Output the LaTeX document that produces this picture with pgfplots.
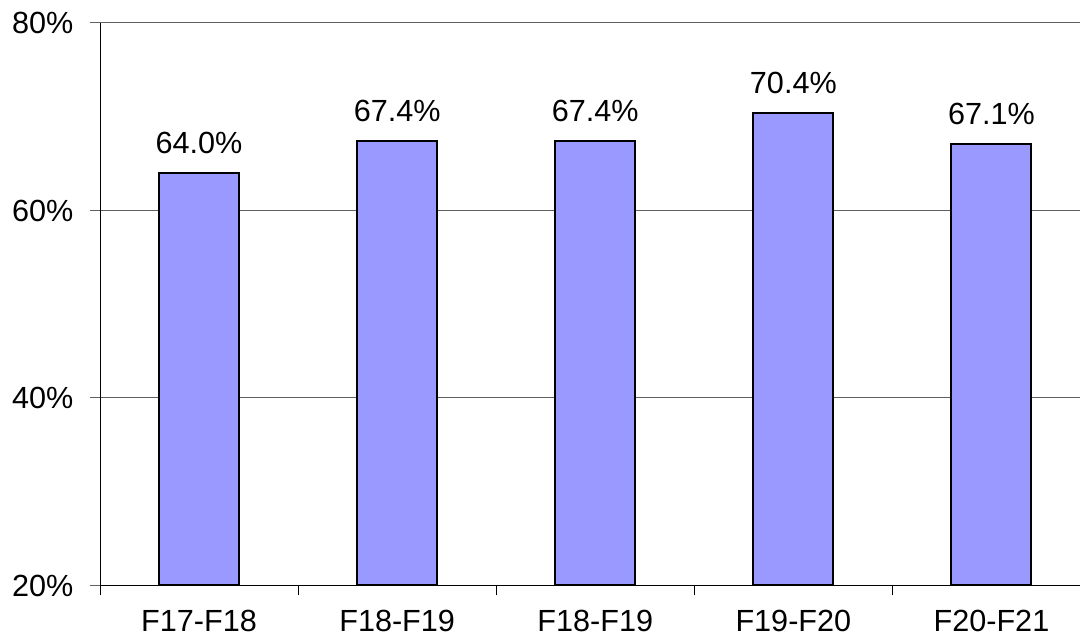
\documentclass[border=0pt]{standalone}
\usepackage{pgfplots}
\pgfplotsset{compat=1.18}
\usepackage{fontspec}
\setmainfont{Liberation Sans}
\definecolor{barfill}{HTML}{9999FF}
\definecolor{gridgray}{HTML}{606060}
\begin{document}
\fontsize{15.3pt}{18pt}\selectfont
\begin{tikzpicture}
\begin{axis}[
  at={(0,0)}, anchor=south west,
  scale only axis=true,
  width=490pt, height=281.25pt,
  xmin=-0.5, xmax=4.447,
  ymin=20, ymax=80,
  axis x line*=bottom, axis y line*=left,
  axis line style={black, line width=0.5pt},
  /pgf/number format/assume math mode=true,
  ytick={20,40,60,80},
  yticklabel={\pgfmathprintnumber{\tick}\%},
  ymajorgrids=true,
  grid style={gridgray, line width=0.5pt},
  xtick={-0.5,0.5,1.5,2.5,3.5},
  xticklabels={},
  extra x ticks={0,1,2,3,4},
  extra x tick labels={F17-F18,F18-F19,F18-F19,F19-F20,F20-F21},
  extra x tick style={major tick length=0pt},
  tick align=outside,
  major tick length=5pt,
  xtick style={black, line width=0.5pt},
  ytick style={gridgray, line width=0.5pt},
  yticklabel style={font=\fontsize{15.3pt}{18pt}\selectfont, xshift=-3pt},
  xticklabel style={font=\fontsize{15.3pt}{18pt}\selectfont, anchor=north, yshift=-7pt},
  ybar, bar width=0.404,
  nodes near coords={\pgfmathprintnumber[fixed,fixed zerofill,precision=1]{\pgfplotspointmeta}\%},
  nodes near coords style={font=\fontsize{15.3pt}{18pt}\selectfont, inner sep=0pt, anchor=south, yshift=9pt},
  clip=false,
]
\addplot[fill=barfill, draw=black, line width=1pt] coordinates {
  (0,64.0) (1,67.4) (2,67.4) (3,70.4) (4,67.1)
};
\end{axis}
\pgfresetboundingbox
\path[use as bounding box] (-50pt,-25.25pt) rectangle (490pt,292.75pt);
\end{tikzpicture}
\end{document}
